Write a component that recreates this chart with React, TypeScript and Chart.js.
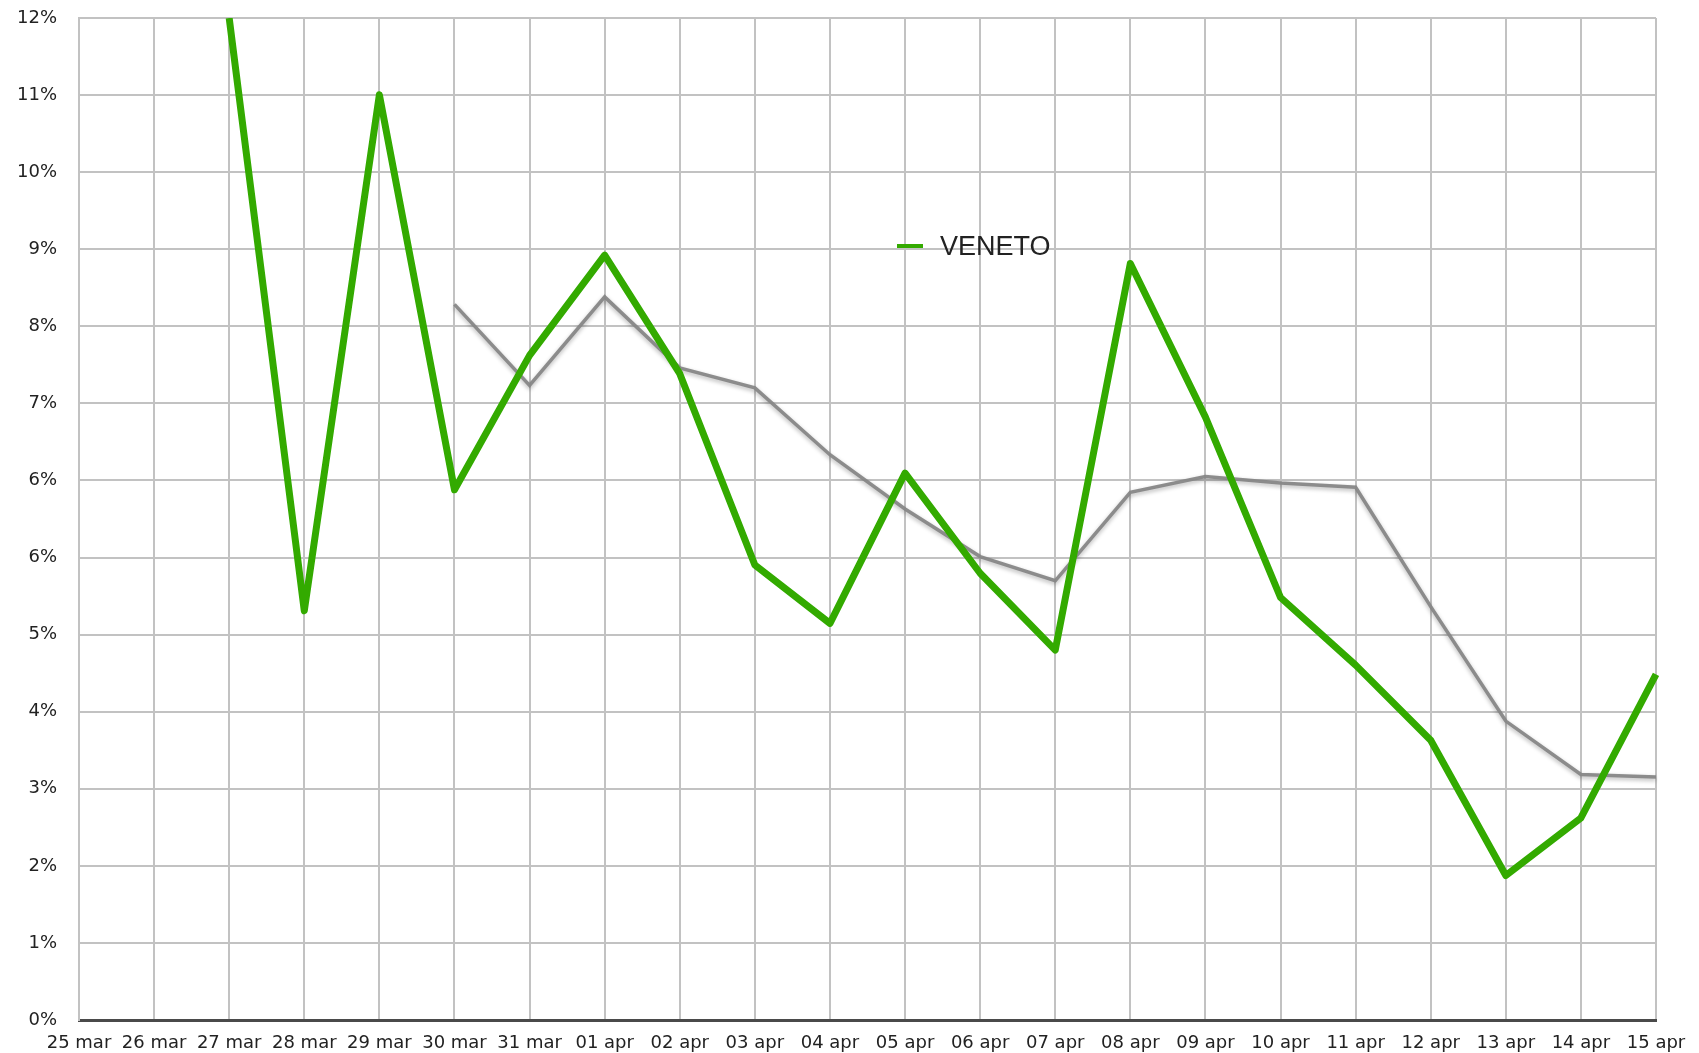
import React, { useEffect, useRef } from "react";
import { Chart, registerables } from "chart.js";

Chart.register(...registerables);

const DATES = [
  "25 mar", "26 mar", "27 mar", "28 mar", "29 mar", "30 mar", "31 mar",
  "01 apr", "02 apr", "03 apr", "04 apr", "05 apr", "06 apr", "07 apr",
  "08 apr", "09 apr", "10 apr", "11 apr", "12 apr", "13 apr", "14 apr", "15 apr",
];

const VENETO = [
  null, null, 12.0, 4.9, 11.08, 6.35, 7.96,
  9.16, 7.74, 5.45, 4.75, 6.55, 5.35, 4.43,
  9.06, 7.22, 5.06, 4.25, 3.35, 1.73, 2.42, 4.14,
];

const TREND = [
  null, null, null, null, null, 8.57, 7.6,
  8.66, 7.81, 7.57, 6.77, 6.12, 5.55, 5.26,
  6.32, 6.51, 6.43, 6.38, 4.95, 3.58, 2.94, 2.91,
];

const Y_TICK_LABELS = [
  "0%", "1%", "2%", "3%", "4%", "5%", "6%", "6%", "7%", "8%", "9%", "10%", "11%", "12%",
];
const Y_MAX = 12;

const LEGEND_LABEL = "VENETO";
const GREEN = "#33aa00";
const GRAY = "rgba(135,135,135,0.95)";

const shadowPlugin = {
  id: "trendShadow",
  beforeDatasetDraw(chart: any, args: any) {
    if (args.index === 1) {
      const ctx = chart.ctx;
      ctx.save();
      ctx.shadowColor = "rgba(0,0,0,0.3)";
      ctx.shadowBlur = 4;
      ctx.shadowOffsetY = 2;
    }
  },
  afterDatasetDraw(chart: any, args: any) {
    if (args.index === 1) chart.ctx.restore();
  },
};

export default function App() {
  const canvasRef = useRef<HTMLCanvasElement | null>(null);

  useEffect(() => {
    document.body.style.margin = "0";
    const canvas = canvasRef.current;
    if (!canvas) return;
    const nSteps = Y_TICK_LABELS.length - 1;
    const chart = new Chart(canvas, {
      type: "line",
      data: {
        labels: DATES,
        datasets: [
          {
            label: LEGEND_LABEL,
            data: VENETO,
            borderColor: GREEN,
            backgroundColor: GREEN,
            borderWidth: 7,
            pointRadius: 0,
            tension: 0,
            borderJoinStyle: "round",
          },
          {
            label: "trend",
            data: TREND,
            borderColor: GRAY,
            backgroundColor: GRAY,
            borderWidth: 3.5,
            pointRadius: 0,
            tension: 0,
          },
        ],
      },
      plugins: [shadowPlugin],
      options: {
        responsive: false,
        animation: false,
        layout: { padding: { top: 18, right: 43, left: 0, bottom: 0 } },
        plugins: {
          legend: { display: false },
          tooltip: { enabled: false },
        },
        scales: {
          x: {
            offset: false,
            grid: { color: "#c2c2c2", lineWidth: 2, drawTicks: false },
            border: { display: true, color: "#4a4a4a", width: 3 },
            ticks: {
              color: "#222",
              font: { family: "DejaVu Sans", size: 18 },
              padding: 13,
              maxRotation: 0,
              autoSkip: false,
            },
            afterFit: (scale: any) => {
              scale.height = 33;
            },
          },
          y: {
            min: 0,
            max: Y_MAX,
            grid: { color: "#c2c2c2", lineWidth: 2, drawTicks: false },
            border: { display: true, color: "#c2c2c2", width: 2 },
            afterBuildTicks: (scale: any) => {
              scale.ticks = Y_TICK_LABELS.map((_, i) => ({ value: (Y_MAX * i) / nSteps }));
            },
            ticks: {
              color: "#222",
              font: { family: "DejaVu Sans", size: 18 },
              padding: 22,
              callback: (_v: any, i: number) => Y_TICK_LABELS[i],
            },
            afterFit: (scale: any) => {
              scale.width = 79;
              scale.paddingTop = 10;
              scale.paddingBottom = 10;
            },
          },
        },
      },
    });
    return () => chart.destroy();
  }, []);

  return (
    <div style={{ position: "relative", width: 1699, height: 1053 }}>
      <canvas ref={canvasRef} width={1699} height={1053} style={{ display: "block" }} />
      <div
        style={{
          position: "absolute",
          left: 897,
          top: 229,
          height: 34,
          display: "flex",
          alignItems: "center",
          fontFamily: "'Liberation Sans', Arial, sans-serif",
          fontSize: 27,
          color: "#222",
        }}
      >
        <span style={{ display: "inline-block", width: 26, height: 4, background: GREEN, marginRight: 17 }} />
        <span>{LEGEND_LABEL}</span>
      </div>
    </div>
  );
}
